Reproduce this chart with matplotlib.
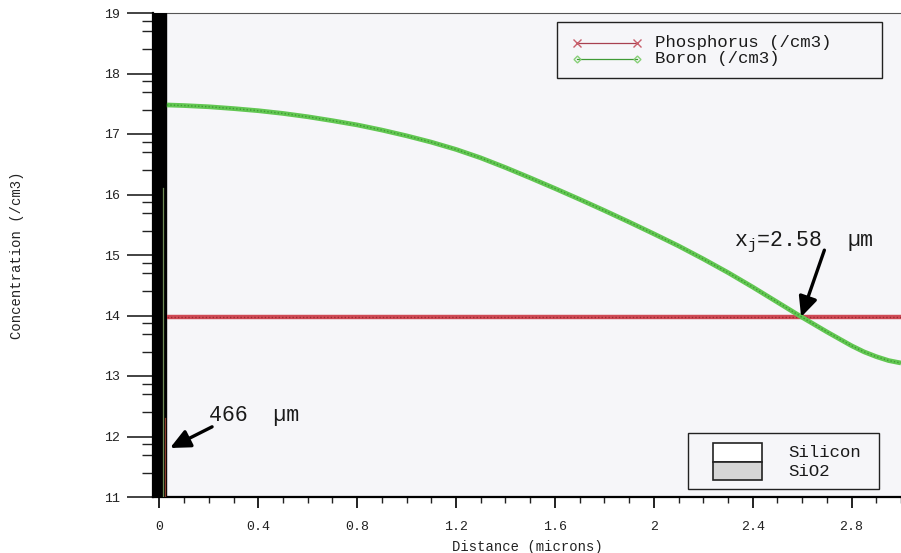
import numpy as np
import matplotlib
matplotlib.use("Agg")
import matplotlib.pyplot as plt
from matplotlib.lines import Line2D
from matplotlib.patches import Rectangle
from matplotlib.ticker import FixedLocator, MultipleLocator

# ---- profile data (distance in microns, log10 concentration in /cm3) ----
boron_x = [0.03, 0.1, 0.2, 0.3, 0.4, 0.5, 0.6, 0.7, 0.8, 0.9, 1.0,
           1.1, 1.2, 1.3, 1.4, 1.5, 1.6, 1.7, 1.8, 1.9, 2.0,
           2.1, 2.2, 2.3, 2.4, 2.5, 2.6, 2.7, 2.8, 2.85, 2.9, 2.95, 3.0]
boron_y = [17.48, 17.47, 17.45, 17.42, 17.385, 17.34, 17.285, 17.22, 17.15, 17.065, 16.97,
           16.865, 16.745, 16.605, 16.445, 16.275, 16.10, 15.92, 15.735, 15.545, 15.35,
           15.15, 14.935, 14.71, 14.47, 14.22, 13.97, 13.73, 13.50, 13.40, 13.32, 13.255, 13.215]

phos_x = [0.03, 0.5, 1.0, 1.5, 2.0, 2.5, 3.0]
phos_y = [13.98, 13.98, 13.98, 13.98, 13.98, 13.98, 13.98]

# traces inside the oxide layer
boron_ox_x = [0.016, 0.016]
boron_ox_y = [16.1, 11.0]
phos_ox_x = [0.024, 0.024]
phos_ox_y = [12.3, 11.0]

oxide_edge = 0.027
junction_depth = 2.58

x_ticks = [0, 0.4, 0.8, 1.2, 1.6, 2.0, 2.4, 2.8]
x_tick_labels = ["0", "0.4", "0.8", "1.2", "1.6", "2", "2.4", "2.8"]
y_ticks = [11, 12, 13, 14, 15, 16, 17, 18, 19]

species_labels = ["Phosphorus (/cm3)", "Boron (/cm3)"]
material_labels = ["Silicon", "SiO2"]

# ---- styling ----
MONO = ["Liberation Mono", "DejaVu Sans Mono"]
plt.rcParams["font.family"] = MONO
BG = "#f6f6f9"
GREEN = "#62c752"
GREEN_DK = "#3f9a35"
RED = "#cf4a55"
RED_DK = "#9a2a33"
INK = "#1a1a1a"

W, H = 901, 553
fig = plt.figure(figsize=(W / 100, H / 100), dpi=100)
fig.patch.set_facecolor("white")
ax = fig.add_axes([153 / W, 56 / H, 748 / W, 484 / H])
ax.set_facecolor(BG)
ax.set_xlim(-0.026, 3.0)
ax.set_ylim(11, 19)


def P(px, py):
    """Pixel position (from top-left) to figure fraction."""
    return px / W, 1 - py / H


# oxide layer
ax.axvspan(-0.026, oxide_edge, color="black", zorder=3)
ax.plot(boron_ox_x, boron_ox_y, color="#6f8a55", lw=0.9, zorder=4)
ax.plot(phos_ox_x, phos_ox_y, color="#8a3a2a", lw=0.9, zorder=4)

# profiles
ax.plot(phos_x, phos_y, color=RED, lw=3.2, zorder=5, solid_capstyle="butt")
ax.plot(phos_x, phos_y, color=RED_DK, lw=1.0, ls=(0, (1, 1.5)), zorder=5)
ax.plot(boron_x, boron_y, color=GREEN, lw=3.4, zorder=6, solid_capstyle="butt")
ax.plot(boron_x, boron_y, color=GREEN_DK, lw=1.0, ls=(0, (1, 1.5)), zorder=6)

# annotations
arrow_kw = dict(arrowstyle="-|>,head_length=0.6,head_width=0.28", color="black",
                lw=2.4, shrinkA=0, shrinkB=0, mutation_scale=20)
ax.annotate("", xy=(0.043, 11.81), xytext=(0.213, 12.16), arrowprops=arrow_kw, zorder=8)
ax.text(0.20, 12.34, "466  µm", fontsize=15.5, color=INK, va="center", ha="left", zorder=8)

ax.annotate("", xy=(junction_depth + 0.016, 13.975), xytext=(2.69, 15.08),
            arrowprops=arrow_kw, zorder=8)
ax.text(2.326, 15.21, r"x$_{\mathregular{j}}$=2.58  µm", fontsize=15.5, color=INK,
        va="center", ha="left", zorder=8)

# axes frame and ticks
for side in ("left", "bottom"):
    ax.spines[side].set_linewidth(1.6)
    ax.spines[side].set_color("black")
ax.spines["top"].set_linewidth(0.8)
ax.spines["top"].set_color("#555555")
ax.spines["right"].set_visible(False)

ax.xaxis.set_major_locator(FixedLocator(x_ticks))
ax.set_xticklabels(x_tick_labels)
ax.xaxis.set_minor_locator(MultipleLocator(0.1))
ax.yaxis.set_major_locator(FixedLocator(y_ticks))
minor_y = [d + np.log10(k) for d in range(11, 19) for k in (2.5, 5.0, 7.5)]
ax.yaxis.set_minor_locator(FixedLocator(minor_y))

ax.tick_params(axis="y", which="major", length=19, width=1.2, direction="out",
               labelsize=9.5, pad=5, colors="#222222")
ax.tick_params(axis="y", which="minor", length=8, width=1.0, direction="out",
               colors="#222222")
ax.tick_params(axis="x", which="major", length=8, width=1.4, direction="out",
               labelsize=9.5, pad=9, colors="#222222")
ax.tick_params(axis="x", which="minor", length=4, width=1.0, direction="out",
               colors="#222222")

ax.set_xlabel("Distance (microns)", fontsize=10, color="#222222")
ax.xaxis.set_label_coords(0.5, -0.088)
ax.set_ylabel("Concentration (/cm3)", fontsize=10, color="#222222")
ax.yaxis.set_label_coords((24 - 153) / 748, 0.5)

# species key (top right)
fig.add_artist(Rectangle(P(557, 78), 325 / W, 56 / H, transform=fig.transFigure,
                         facecolor=BG, edgecolor="#222222", lw=1.0, zorder=9))
species_style = [
    dict(color="#a84050", marker="x", markersize=5.5, markeredgecolor="#c8606c",
         markerfacecolor="none"),
    dict(color="#3f9a35", marker="D", markersize=3.5, markeredgecolor="#88d078",
         markerfacecolor="none"),
]
for i, (label, style) in enumerate(zip(species_labels, species_style)):
    py = 43 + 16 * i
    x0, y0 = P(577, py)
    x1, _ = P(637, py)
    fig.add_artist(Line2D([x0, x1], [y0, y0], transform=fig.transFigure, lw=0.9,
                          zorder=10, **style))
    fig.text(*P(655, py), label, fontsize=12.5, color=INK, va="center", ha="left",
             zorder=10)

# material key (bottom right)
fig.add_artist(Rectangle(P(688, 489), 191 / W, 56 / H, transform=fig.transFigure,
                         facecolor=BG, edgecolor="#222222", lw=1.0, zorder=9))
material_fill = ["white", "#d6d6d6"]
for i, (label, fill) in enumerate(zip(material_labels, material_fill)):
    top = 443 + 18.5 * i
    fig.add_artist(Rectangle(P(713, top + 18.5), 49 / W, 18.5 / H,
                             transform=fig.transFigure, facecolor=fill,
                             edgecolor="#222222", lw=1.2, zorder=10))
    fig.text(*P(788, top + 9.5), label, fontsize=12.5, color=INK, va="center",
             ha="left", zorder=10)

fig.savefig("out.png", dpi=100)
